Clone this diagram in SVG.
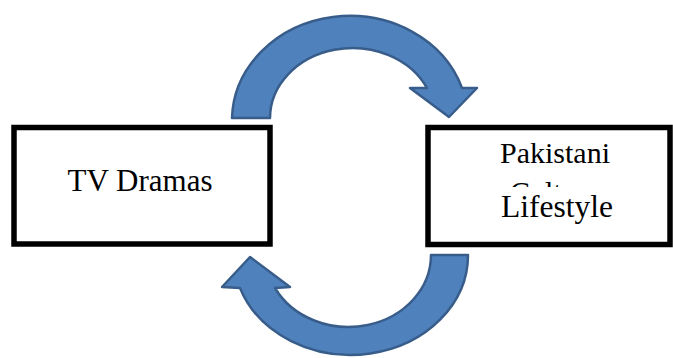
<svg xmlns="http://www.w3.org/2000/svg" width="673" height="358" viewBox="0 0 673 358">
<style>
.box{fill:#fff;stroke:#000;stroke-width:5.5}
.arrow{fill:#4F81BD;stroke:#385D8A;stroke-width:2.5;stroke-linejoin:round}
.lbl{font-family:"Liberation Serif","Times New Roman",serif;fill:#000;text-anchor:middle}
</style>
<defs>
<clipPath id="cultureClip"><rect x="430" y="170" width="236" height="17"/></clipPath>
</defs>
<rect width="673" height="358" fill="#fff"/>
<g id="tv-dramas">
<rect class="box" x="14" y="127.5" width="256" height="116.5"/>
<text class="lbl" x="140" y="191" font-size="31">TV Dramas</text>
</g>
<g id="pakistani-culture">
<rect class="box" x="428" y="127.5" width="242" height="117"/>
<text class="lbl" x="555" y="163" font-size="30">Pakistani</text>
<text class="lbl" x="555" y="202" font-size="30" clip-path="url(#cultureClip)">Culture</text>
<text class="lbl" x="557" y="216.5" font-size="31.5">Lifestyle</text>
</g>
<g id="connectors">
<path class="arrow" d="M232,118 A118,105 0 0 1 462,88 L477,88 L449,117 L410,88 L427,88 A82.5,70 0 0 0 270,118 Z"/>
<path class="arrow" d="M468,255 A117.3,100 0 0 1 240,288 L222,287 L250,257 L290,287 L275,288 A82.6,72 0 0 0 431,255 Z"/>
</g>
</svg>
